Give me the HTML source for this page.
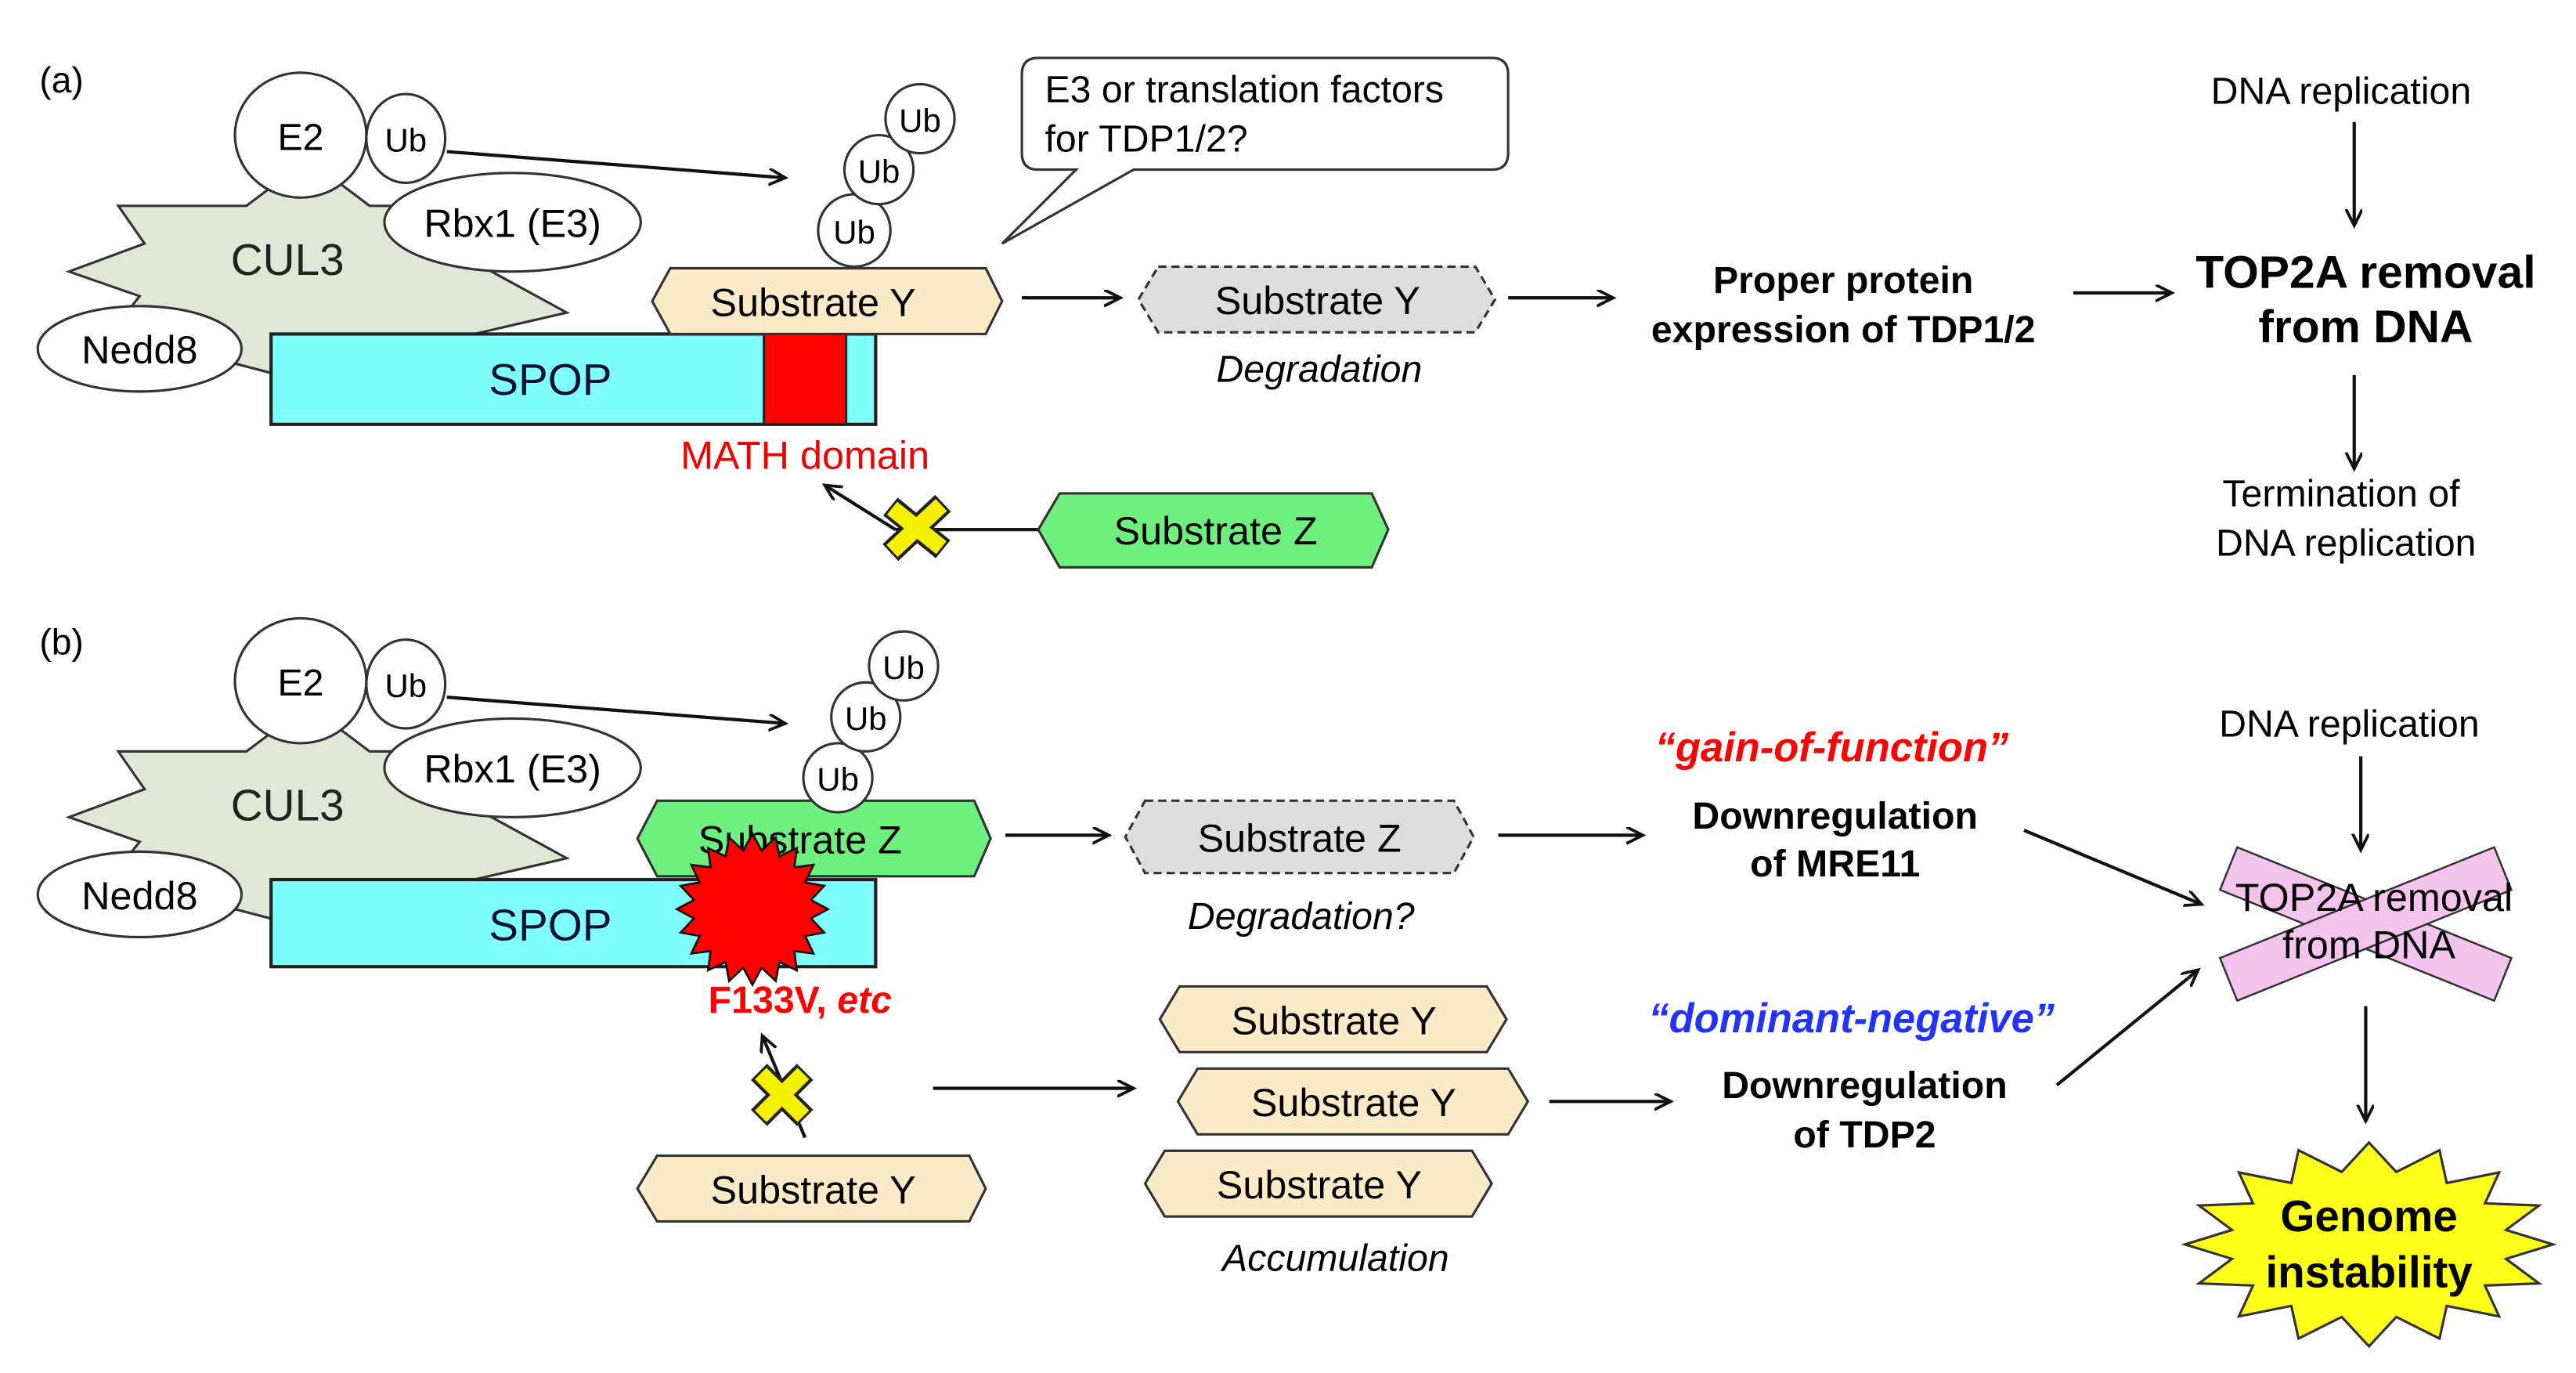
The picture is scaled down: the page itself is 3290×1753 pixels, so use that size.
<!DOCTYPE html>
<html><head><meta charset="utf-8"><style>
html,body{margin:0;padding:0;background:#fff}
svg{display:block}
text{font-family:"Liberation Sans",Arial,sans-serif}
</style></head><body>
<svg width="3290" height="1753" viewBox="0 0 1568 835" xmlns="http://www.w3.org/2000/svg">
<defs>
<marker id="ah" markerWidth="12" markerHeight="12" refX="10" refY="5" orient="auto" markerUnits="userSpaceOnUse">
<path d="M0,0 L10,5 L0,10" fill="none" stroke="#111" stroke-width="1.8"/>
</marker>
<g id="cplx">
<polygon points="72,125 150,125 170,110 205,110 225,125 300,125 290,160 345,190 280,205 265,228 170,228 120,215 65,205 85,180 42,165 88,148" fill="#dfe8d6" stroke="#333" stroke-width="1.5"/>
<text x="175" y="167" font-size="27" text-anchor="middle" fill="#222">CUL3</text>
<ellipse cx="183" cy="82" rx="40" ry="38" fill="#fff" stroke="#333" stroke-width="1.5"/>
<text x="183" y="91" font-size="23" text-anchor="middle">E2</text>
<ellipse cx="247" cy="84" rx="24" ry="27" fill="#fff" stroke="#333" stroke-width="1.5"/>
<text x="247" y="92" font-size="20" text-anchor="middle">Ub</text>
<ellipse cx="312" cy="135" rx="78" ry="30" fill="#fff" stroke="#333" stroke-width="1.5"/>
<text x="312" y="144" font-size="24" text-anchor="middle">Rbx1 (E3)</text>
<ellipse cx="85" cy="212" rx="62" ry="26" fill="#fff" stroke="#333" stroke-width="1.5"/>
<text x="85" y="221" font-size="24" text-anchor="middle">Nedd8</text>
<line x1="272" y1="92" x2="478" y2="108" stroke="#111" stroke-width="2" marker-end="url(#ah)"/>
</g>
</defs>

<!-- (a) -->
<text x="24" y="56" font-size="22">(a)</text>
<use href="#cplx"/>
<rect x="165" y="203" width="368" height="55" fill="#80ffff" stroke="#222" stroke-width="2"/>
<rect x="465" y="203" width="50" height="55" fill="#f00" stroke="#222" stroke-width="1.5"/>
<text x="335" y="240" font-size="27" text-anchor="middle" fill="#113">SPOP</text>
<polygon points="408,163 600,163 610,183 600,203 408,203 397,183" fill="#fdebc8" stroke="#333" stroke-width="1.5"/>
<text x="495" y="192" font-size="24" text-anchor="middle">Substrate Y</text>
<circle cx="520" cy="140" r="22" fill="#fff" stroke="#333" stroke-width="1.5"/><text x="520" y="148" font-size="20" text-anchor="middle">Ub</text>
<circle cx="535" cy="103" r="21" fill="#fff" stroke="#333" stroke-width="1.5"/><text x="535" y="111" font-size="20" text-anchor="middle">Ub</text>
<circle cx="560" cy="72" r="21" fill="#fff" stroke="#333" stroke-width="1.5"/><text x="560" y="80" font-size="20" text-anchor="middle">Ub</text>
<path d="M632,35 H908 Q918,35 918,45 V93 Q918,103 908,103 H690 L610,148 L655,103 H632 Q622,103 622,93 V45 Q622,35 632,35 Z" fill="#fff" stroke="#333" stroke-width="1.5"/>
<text x="636" y="62" font-size="23">E3 or translation factors</text>
<text x="636" y="92" font-size="23">for TDP1/2?</text>
<line x1="622" y1="181" x2="682" y2="181" stroke="#111" stroke-width="2" marker-end="url(#ah)"/>
<polygon points="705,162 898,162 910,182 898,202 705,202 693,182" fill="#ddd" stroke="#333" stroke-width="1.5" stroke-dasharray="5,3"/>
<text x="802" y="191" font-size="24" text-anchor="middle">Substrate Y</text>
<text x="803" y="232" font-size="23" font-style="italic" text-anchor="middle">Degradation</text>
<line x1="918" y1="181" x2="982" y2="181" stroke="#111" stroke-width="2" marker-end="url(#ah)"/>
<text x="1122" y="178" font-size="23" font-weight="bold" text-anchor="middle">Proper protein</text>
<text x="1122" y="208" font-size="23" font-weight="bold" text-anchor="middle">expression of TDP1/2</text>
<line x1="1262" y1="178" x2="1322" y2="178" stroke="#111" stroke-width="2" marker-end="url(#ah)"/>
<text x="1440" y="175" font-size="28" font-weight="bold" text-anchor="middle">TOP2A removal</text>
<text x="1440" y="208" font-size="28" font-weight="bold" text-anchor="middle">from DNA</text>
<text x="1425" y="63" font-size="23" text-anchor="middle">DNA replication</text>
<line x1="1433" y1="74" x2="1433" y2="137" stroke="#111" stroke-width="2" marker-end="url(#ah)"/>
<line x1="1433" y1="228" x2="1433" y2="285" stroke="#111" stroke-width="2" marker-end="url(#ah)"/>
<text x="1425" y="308" font-size="23" text-anchor="middle">Termination of</text>
<text x="1428" y="338" font-size="23" text-anchor="middle">DNA replication</text>
<text x="490" y="285" font-size="24" fill="#e00" text-anchor="middle">MATH domain</text>
<line x1="632" y1="322" x2="545" y2="322" stroke="#111" stroke-width="2"/>
<line x1="545" y1="322" x2="502" y2="295" stroke="#111" stroke-width="2" marker-end="url(#ah)"/>
<g stroke-linecap="butt">
<line x1="542" y1="308" x2="574" y2="334" stroke="#222" stroke-width="14"/>
<line x1="574" y1="306" x2="542" y2="336" stroke="#222" stroke-width="14"/>
<line x1="543" y1="309" x2="573" y2="333" stroke="#f5f000" stroke-width="10"/>
<line x1="573" y1="307" x2="543" y2="335" stroke="#f5f000" stroke-width="10"/>
</g>
<polygon points="645,300 835,300 845,322 835,345 645,345 632,322" fill="#6ef07e" stroke="#333" stroke-width="1.5"/>
<text x="740" y="331" font-size="24" text-anchor="middle">Substrate Z</text>

<!-- (b) -->
<text x="24" y="398" font-size="22">(b)</text>
<use href="#cplx" transform="translate(0,332)"/>
<rect x="165" y="535" width="368" height="53" fill="#80ffff" stroke="#222" stroke-width="2"/>
<text x="335" y="572" font-size="27" text-anchor="middle" fill="#113">SPOP</text>
<polygon points="400,487 593,487 603,510 593,533 400,533 388,510" fill="#6ef07e" stroke="#333" stroke-width="1.5"/>
<text x="487" y="519" font-size="24" text-anchor="middle">Substrate Z</text>
<circle cx="510" cy="473" r="21" fill="#fff" stroke="#333" stroke-width="1.5"/><text x="510" y="481" font-size="20" text-anchor="middle">Ub</text>
<circle cx="527" cy="436" r="21" fill="#fff" stroke="#333" stroke-width="1.5"/><text x="527" y="444" font-size="20" text-anchor="middle">Ub</text>
<circle cx="550" cy="405" r="21" fill="#fff" stroke="#333" stroke-width="1.5"/><text x="550" y="413" font-size="20" text-anchor="middle">Ub</text>
<polygon points="504,553 493.6,558.6 501.7,567.2 490.1,569.3 495.2,580 483.5,578.5 485,590.2 474.3,585.1 472.2,596.7 463.6,588.6 458,599 452.4,588.6 443.8,596.7 441.7,585.1 431,590.2 432.5,578.5 420.8,580 425.9,569.3 414.3,567.2 422.4,558.6 412,553 422.4,547.4 414.3,538.8 425.9,536.7 420.8,526 432.5,527.5 431,515.8 441.7,520.9 443.8,509.3 452.4,517.4 458,507 463.6,517.4 472.2,509.3 474.3,520.9 485,515.8 483.5,527.5 495.2,526 490.1,536.7 501.7,538.8 493.6,547.4" fill="#f00" stroke="#111" stroke-width="1.3"/>
<text x="487" y="616" font-size="23" font-weight="bold" fill="#f00" text-anchor="middle">F133V, <tspan font-style="italic">etc</tspan></text>
<line x1="490" y1="692" x2="464" y2="630" stroke="#111" stroke-width="2" marker-end="url(#ah)"/>
<g>
<line x1="462" y1="652" x2="490" y2="680" stroke="#222" stroke-width="14"/>
<line x1="490" y1="652" x2="462" y2="680" stroke="#222" stroke-width="14"/>
<line x1="463" y1="653" x2="489" y2="679" stroke="#f5f000" stroke-width="10"/>
<line x1="489" y1="653" x2="463" y2="679" stroke="#f5f000" stroke-width="10"/>
</g>
<polygon points="400,703 590,703 600,723 590,743 400,743 388,723" fill="#fdebc8" stroke="#333" stroke-width="1.5"/>
<text x="495" y="732" font-size="24" text-anchor="middle">Substrate Y</text>
<line x1="568" y1="662" x2="690" y2="662" stroke="#111" stroke-width="2" marker-end="url(#ah)"/>
<polygon points="718,600 905,600 917,620 905,640 718,640 706,620" fill="#fdebc8" stroke="#333" stroke-width="1.5"/>
<text x="812" y="629" font-size="24" text-anchor="middle">Substrate Y</text>
<polygon points="729,650 918,650 930,670 918,690 729,690 717,670" fill="#fdebc8" stroke="#333" stroke-width="1.5"/>
<text x="824" y="679" font-size="24" text-anchor="middle">Substrate Y</text>
<polygon points="709,700 896,700 908,720 896,740 709,740 697,720" fill="#fdebc8" stroke="#333" stroke-width="1.5"/>
<text x="803" y="729" font-size="24" text-anchor="middle">Substrate Y</text>
<text x="813" y="773" font-size="23" font-style="italic" text-anchor="middle">Accumulation</text>
<line x1="612" y1="508" x2="675" y2="508" stroke="#111" stroke-width="2" marker-end="url(#ah)"/>
<polygon points="697,487 885,487 897,509 885,531 697,531 685,509" fill="#ddd" stroke="#333" stroke-width="1.5" stroke-dasharray="5,3"/>
<text x="791" y="518" font-size="24" text-anchor="middle">Substrate Z</text>
<text x="792" y="565" font-size="23" font-style="italic" text-anchor="middle">Degradation?</text>
<line x1="912" y1="508" x2="1000" y2="508" stroke="#111" stroke-width="2" marker-end="url(#ah)"/>
<text x="1115" y="463" font-size="25" font-weight="bold" font-style="italic" fill="#f00" text-anchor="middle">“gain-of-function”</text>
<text x="1117" y="504" font-size="23" font-weight="bold" text-anchor="middle">Downregulation</text>
<text x="1117" y="533" font-size="23" font-weight="bold" text-anchor="middle">of MRE11</text>
<text x="1127" y="628" font-size="25" font-weight="bold" font-style="italic" fill="#2233ff" text-anchor="middle">“dominant-negative”</text>
<line x1="943" y1="670" x2="1017" y2="670" stroke="#111" stroke-width="2" marker-end="url(#ah)"/>
<text x="1135" y="668" font-size="23" font-weight="bold" text-anchor="middle">Downregulation</text>
<text x="1135" y="698" font-size="23" font-weight="bold" text-anchor="middle">of TDP2</text>
<line x1="1232" y1="505" x2="1340" y2="550" stroke="#111" stroke-width="2" marker-end="url(#ah)"/>
<line x1="1252" y1="660" x2="1338" y2="590" stroke="#111" stroke-width="2" marker-end="url(#ah)"/>
<text x="1430" y="448" font-size="23" text-anchor="middle">DNA replication</text>
<line x1="1437" y1="460" x2="1437" y2="517" stroke="#111" stroke-width="2" marker-end="url(#ah)"/>
<rect x="1350" y="548" width="180" height="28" fill="#f4c4ee" stroke="#333" stroke-width="1.2" transform="rotate(22 1440 562)"/>
<rect x="1350" y="548" width="180" height="28" fill="#f4c4ee" stroke="#333" stroke-width="1.2" transform="rotate(-22 1440 562)"/>
<text x="1445" y="554" font-size="24" text-anchor="middle">TOP2A removal</text>
<text x="1442" y="583" font-size="24" text-anchor="middle">from DNA</text>
<line x1="1440" y1="612" x2="1440" y2="682" stroke="#111" stroke-width="2" marker-end="url(#ah)"/>
<polygon points="1554,757 1525.4,765.8 1545.5,780.7 1512.6,782 1521.2,800.8 1489.3,794.4 1484.9,814.3 1458.6,801.1 1442,819 1425.4,801.1 1399.1,814.3 1394.7,794.4 1362.8,800.8 1371.4,782 1338.5,780.7 1358.6,765.8 1330,757 1358.6,748.2 1338.5,733.3 1371.4,732 1362.8,713.2 1394.7,719.6 1399.1,699.7 1425.4,712.9 1442,695 1458.6,712.9 1484.9,699.7 1489.3,719.6 1521.2,713.2 1512.6,732 1545.5,733.3 1525.4,748.2" fill="#ffff1a" stroke="#333" stroke-width="1.5"/>
<text x="1442" y="749" font-size="27" font-weight="bold" text-anchor="middle">Genome</text>
<text x="1442" y="783" font-size="27" font-weight="bold" text-anchor="middle">instability</text>
</svg>
</body></html>
